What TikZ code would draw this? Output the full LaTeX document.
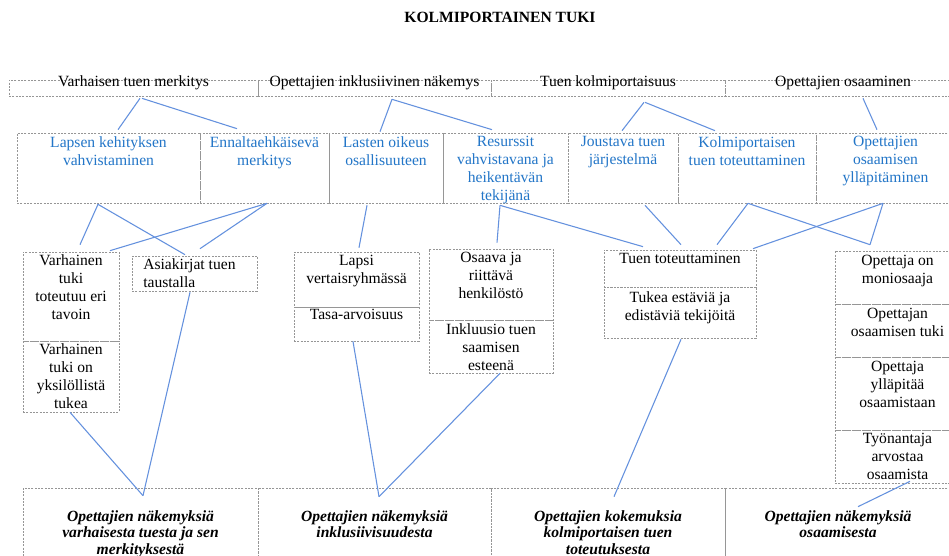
\documentclass[tikz,border=0pt]{standalone}
\usepackage{fontspec}
\setmainfont{Liberation Serif}
\usetikzlibrary{fit}
\definecolor{boxgray}{RGB}{150,150,150}
\definecolor{bluetext}{RGB}{35,118,200}
\definecolor{linkblue}{RGB}{100,145,222}
\begin{document}
\begin{tikzpicture}[x=0.75pt,y=-0.75pt,
  box/.style={draw=boxgray, dash pattern=on 1.5pt off 1pt, line width=0.5pt, inner sep=0pt},
  lbl/.style={align=center, inner sep=0pt, anchor=north, font=\fontsize{11.7}{13.5}\selectfont},
  blbl/.style={lbl, text=bluetext},
  head/.style={align=center, inner sep=0pt, anchor=north, font=\fontsize{11.7}{12.5}\selectfont\bfseries\itshape},
  conn/.style={draw=linkblue, line width=0.8pt}]
\useasboundingbox (0,0) rectangle (949,556);
\fill[white] (0,0) rectangle (949,556);
\clip (0,0) rectangle (949,556);

% title
\node[font=\fontsize{11.7}{13.5}\selectfont\bfseries, inner sep=0pt] (title) at (500,17) {KOLMIPORTAINEN TUKI};

% themes
\node[box, fit={(9,80) (258,96)}, font=\fontsize{11.7}{13.5}\selectfont] (T1) {Varhaisen tuen merkitys};
\node[box, fit={(258,80) (491,96)}, font=\fontsize{11.7}{13.5}\selectfont] (T2) {Opettajien inklusiivinen näkemys};
\node[box, fit={(491,80) (725,96)}, font=\fontsize{11.7}{13.5}\selectfont] (T3) {Tuen kolmiportaisuus};
\node[box, fit={(725,80) (961,96)}, font=\fontsize{11.7}{13.5}\selectfont] (T4) {Opettajien osaaminen};

% sub-themes
\node[box, fit={(17,133) (200,203)}] (R1) {};
\node[box, fit={(200,133) (329,203)}] (R2) {};
\node[box, fit={(329,133) (443,203)}] (R3) {};
\node[box, fit={(443,133) (568,203)}] (R4) {};
\node[box, fit={(568,133) (678,203)}] (R5) {};
\node[box, fit={(678,133) (816,203)}] (R6) {};
\node[box, fit={(816,133) (955,203)}] (R7) {};
\node[blbl] (R1t) at (108.5,136) {Lapsen kehityksen\\vahvistaminen};
\node[blbl] (R2t) at (264.5,136) {Ennaltaehkäisevä\\merkitys};
\node[blbl] (R3t) at (386,136) {Lasten oikeus\\osallisuuteen};
\node[blbl] (R4t) at (505.5,136) {Resurssit\\vahvistavana ja\\heikentävän\\tekijänä};
\node[blbl] (R5t) at (623,136) {Joustava tuen\\järjestelmä};
\node[blbl] (R6t) at (747,136) {Kolmiportaisen\\tuen toteuttaminen};
\node[blbl] (R7t) at (885.5,136) {Opettajien\\osaamisen\\ylläpitäminen};

% categories
\node[box, fit={(23,252) (119,341)}] (A1) {};
\node[box, fit={(23,341) (119,412)}] (A2) {};
\node[lbl] (A1t) at (71,254) {Varhainen\\tuki\\toteutuu eri\\tavoin};
\node[lbl] (A2t) at (71,343) {Varhainen\\tuki on\\yksilöllistä\\tukea};

\node[box, fit={(132,256) (257,291)}] (B) {};
\node[lbl, align=left, anchor=north west] (Bt) at (143,258) {Asiakirjat tuen\\taustalla};

\node[box, fit={(294,252) (419,307)}] (C1) {};
\node[box, fit={(294,307) (419,341)}] (C2) {};
\node[lbl] (C1t) at (356.5,255) {Lapsi\\vertaisryhmässä};
\node[lbl] (C2t) at (356.5,309) {Tasa-arvoisuus};

\node[box, fit={(429,249) (553,320)}] (D1) {};
\node[box, fit={(429,320) (553,373)}] (D2) {};
\node[lbl] (D1t) at (491,252) {Osaava ja\\riittävä\\henkilöstö};
\node[lbl] (D2t) at (491,323) {Inkluusio tuen\\saamisen\\esteenä};

\node[box, fit={(604,250) (756,287)}] (E1) {};
\node[box, fit={(604,287) (756,338)}] (E2) {};
\node[lbl] (E1t) at (680,253) {Tuen toteuttaminen};
\node[lbl] (E2t) at (680,291) {Tukea estäviä ja\\edistäviä tekijöitä};

\node[box, fit={(835,251) (960,304)}] (F1) {};
\node[box, fit={(835,304) (960,357)}] (F2) {};
\node[box, fit={(835,357) (960,430)}] (F3) {};
\node[box, fit={(835,430) (960,483)}] (F4) {};
\node[lbl] (F1t) at (897.5,255) {Opettaja on\\moniosaaja};
\node[lbl] (F2t) at (897.5,308) {Opettajan\\osaamisen tuki};
\node[lbl] (F3t) at (897.5,361) {Opettaja\\ylläpitää\\osaamistaan};
\node[lbl] (F4t) at (897.5,433) {Työnantaja\\arvostaa\\osaamista};

% main themes
\node[box, fit={(23,488) (258,575)}] (G1) {};
\node[box, fit={(258,488) (491,575)}] (G2) {};
\node[box, fit={(491,488) (725,575)}] (G3) {};
\node[box, fit={(725,488) (951,575)}] (G4) {};
\node[head] (G1t) at (140.5,510) {Opettajien näkemyksiä\\varhaisesta tuesta ja sen\\merkityksestä};
\node[head] (G2t) at (374.5,510) {Opettajien näkemyksiä\\inklusiivisuudesta};
\node[head] (G3t) at (608,510) {Opettajien kokemuksia\\kolmiportaisen tuen\\toteutuksesta};
\node[head] (G4t) at (838,510) {Opettajien näkemyksiä\\osaamisesta};

% links: themes to sub-themes
\draw[conn] ([shift={(6.5,2)}]T1.south) -- ([shift={(9.5,-3)}]R1.north);
\draw[conn] ([shift={(8.5,2)}]T1.south) -- ([shift={(-27.5,-4)}]R2.north);
\draw[conn] ([shift={(17.5,3)}]T2.south) -- ([shift={(-6,-1)}]R3.north);
\draw[conn] ([shift={(17.5,3)}]T2.south) -- ([shift={(-13.5,-3)}]R4.north);
\draw[conn] ([shift={(36,6)}]T3.south) -- ([shift={(-1,-2)}]R5.north);
\draw[conn] ([shift={(37,6)}]T3.south) -- ([shift={(-32,-2)}]R6.north);
\draw[conn] ([shift={(20,2)}]T4.south) -- ([shift={(-8.5,-3)}]R7.north);

% links: sub-themes to categories
\draw[conn] ([shift={(-10.5,1)}]R1.south) -- ([shift={(9,-7)}]A1.north);
\draw[conn] ([shift={(-10.5,1)}]R1.south) -- ([shift={(-9.5,-1)}]B.north);
\draw[conn] ([shift={(2.5,0)}]R2.south) -- ([shift={(39,-1)}]A1.north);
\draw[conn] ([shift={(2.5,0)}]R2.south) -- ([shift={(5.5,-7)}]B.north);
\draw[conn] ([shift={(-19,2)}]R3.south) -- ([shift={(2.5,-4)}]C1.north);
\draw[conn] ([shift={(-5.5,2)}]R4.south) -- ([shift={(6,-6)}]D1.north);
\draw[conn] ([shift={(-5.5,2)}]R4.south) -- ([shift={(-37,-3)}]E1.north);
\draw[conn] ([shift={(22,2)}]R5.south) -- ([shift={(1,-5)}]E1.north);
\draw[conn] ([shift={(1,0)}]R6.south) -- ([shift={(37,-5)}]E1.north);
\draw[conn] ([shift={(1,0)}]R6.south) -- ([shift={(-27.5,-6)}]F1.north);
\draw[conn] ([shift={(-2.5,0)}]R7.south) -- ([shift={(-27.5,-6)}]F1.north);
\draw[conn] ([shift={(-2.5,0)}]R7.south) -- ([shift={(73,-1)}]E1.north);

% links: categories to main themes
\draw[conn] ([shift={(-1,0)}]A2.south) -- ([shift={(2.5,8)}]G1.north);
\draw[conn] ([shift={(-4.5,1)}]B.south) -- ([shift={(2.5,8)}]G1.north);
\draw[conn] ([shift={(-3.5,0)}]C2.south) -- ([shift={(4.5,9)}]G2.north);
\draw[conn] ([shift={(9,0)}]D2.south) -- ([shift={(4.5,9)}]G2.north);
\draw[conn] ([shift={(1,1)}]E2.south) -- ([shift={(6,9)}]G3.north);
\draw[conn] ([shift={(12.5,-2)}]F4.south) -- ([shift={(20,19)}]G4.north);
\end{tikzpicture}
\end{document}
